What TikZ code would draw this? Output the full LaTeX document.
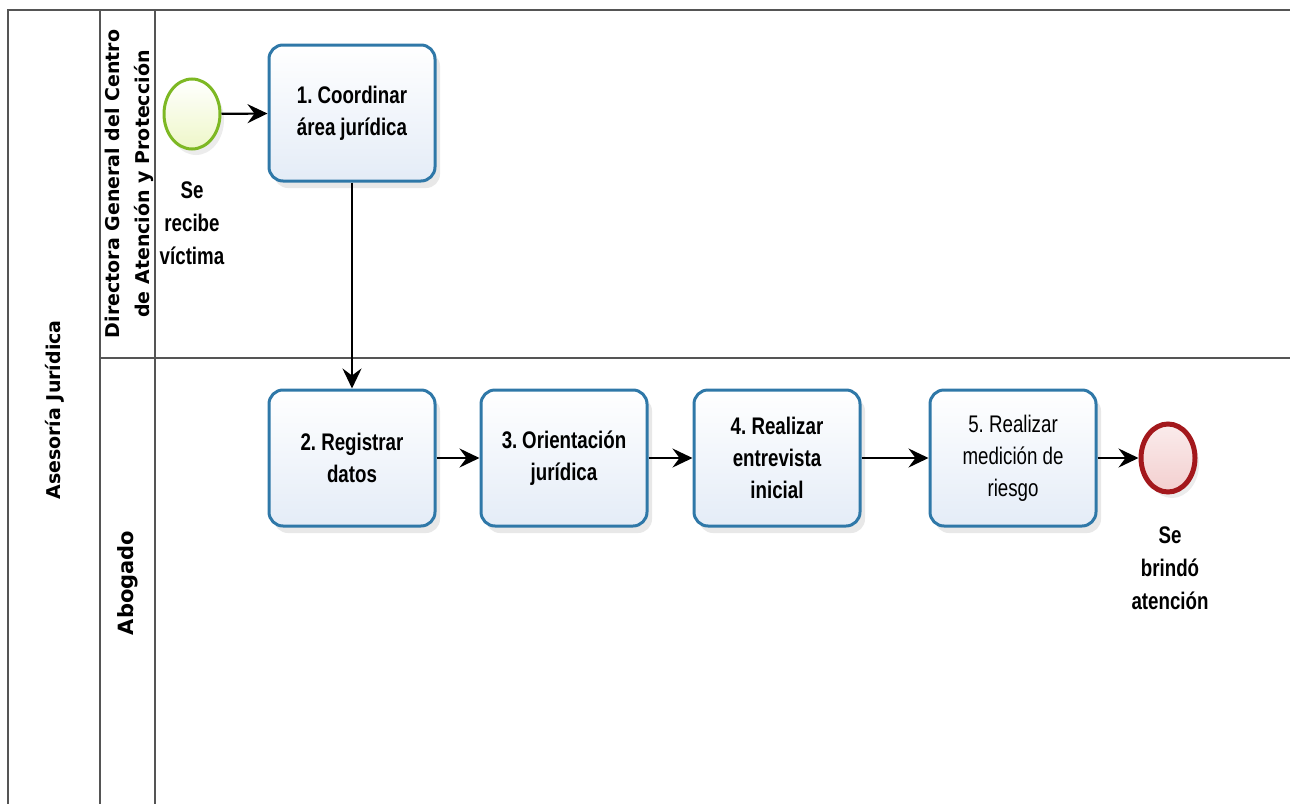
\documentclass[tikz,border=0pt]{standalone}
\usepackage{fontspec}
\setmainfont{Liberation Sans}
\newfontfamily\taskfont[FakeStretch=0.78]{Liberation Sans}
\newfontfamily\lanefont{DejaVu Sans}
\usetikzlibrary{arrows.meta,shapes.geometric,shadows}
\definecolor{taskblue}{HTML}{2F78A8}
\definecolor{taskfill}{HTML}{E4ECF7}
\definecolor{startgreen}{HTML}{7DB823}
\definecolor{startfill}{HTML}{EEF7C8}
\definecolor{endred}{HTML}{A3181C}
\definecolor{endfill}{HTML}{F3CFCF}
\definecolor{poolline}{HTML}{555555}
\tikzset{
  task/.style={rectangle, rounded corners=14pt, draw=taskblue, line width=3pt,
    top color=white, bottom color=taskfill, minimum width=166pt, minimum height=136pt,
    text width=160pt, align=center, inner sep=0pt,
    font=\taskfont\fontsize{24}{32}\selectfont,
    execute at begin node={\frenchspacing\spaceskip=4.5pt plus 1pt\relax\xspaceskip=4.5pt plus 1pt\relax},
    drop shadow={opacity=0.18, shadow xshift=5pt, shadow yshift=-7pt}},
  boldtask/.style={task, font=\taskfont\bfseries\fontsize{24}{32}\selectfont},
  evstart/.style={ellipse, draw=startgreen, line width=3pt, inner sep=0pt,
    top color=white, bottom color=startfill, minimum width=56pt, minimum height=70pt,
    drop shadow={opacity=0.15, shadow xshift=4pt, shadow yshift=-6pt}},
  evend/.style={ellipse, draw=endred, line width=5pt, inner sep=0pt,
    top color=white!60!endfill, bottom color=endfill, minimum width=54pt, minimum height=68pt,
    drop shadow={opacity=0.15, shadow xshift=4pt, shadow yshift=-6pt}},
  evlabel/.style={align=center, font=\taskfont\bfseries\fontsize{24}{33}\selectfont},
  flow/.style={line width=2.2pt, -{Stealth[length=20pt,width=19pt,inset=7pt]}},
  pool/.style={draw=poolline, line width=2pt},
  lanelabel/.style={rotate=90, align=center, font=\lanefont\bfseries\fontsize{19}{30}\selectfont}
}
\begin{document}
\begin{tikzpicture}[x=1pt,y=-1pt]
\useasboundingbox (0,0) rectangle (1290,803);
% pool and lanes
\draw[pool] (8,806) -- (8,10) -- (1294,10);
\draw[pool] (100,10) -- (100,806);
\draw[pool] (155,10) -- (155,806);
\draw[pool] (100,358) -- (1294,358);
\node[lanelabel] (poolname) at (55,410) {Asesoría Jurídica};
\node[lanelabel] (lane1) at (129,184) {Directora General del Centro\\de Atención y Protección};
\node[lanelabel, font=\lanefont\bfseries\fontsize{21}{30}\selectfont] (lane2) at (128,583) {Abogado};
% events and tasks
\node[evstart] (start) at (192,114) {};
\node[evlabel] (startlbl) at (192,223) {Se\\recibe\\víctima};
\node[boldtask] (t1) at (352,113) {1. Coordinar\\área jurídica};
\node[boldtask] (t2) at (352,458) {2. Registrar\\datos};
\node[boldtask] (t3) at (564,458) {3. Orientación\\jurídica};
\node[boldtask] (t4) at (777,458) {4. Realizar\\entrevista\\inicial};
\node[task] (t5) at (1013,458) {5. Realizar\\medición de\\riesgo};
\node[evend] (end) at (1168,458) {};
\node[evlabel] (endlbl) at (1170,568) {Se\\brindó\\atención};
% flows
\draw[flow] (start) -- (t1);
\draw[flow] (t1) -- (t2);
\draw[flow] (t2) -- (t3);
\draw[flow] (t3) -- (t4);
\draw[flow] (t4) -- (t5);
\draw[flow] (t5) -- (end);
\end{tikzpicture}
\end{document}
